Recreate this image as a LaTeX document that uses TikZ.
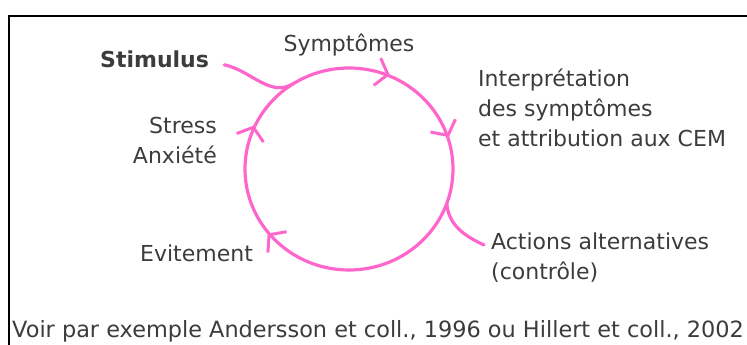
\documentclass[tikz,border=0pt]{standalone}
\usepackage{fontspec}
\setmainfont{DejaVu Sans}
\usepackage{tikz}
\usetikzlibrary{arrows.meta,decorations.markings,calc}

\definecolor{loopPink}{RGB}{255,102,204}
\definecolor{labelGray}{RGB}{60,60,60}

\tikzset{
  lbl/.style={inner sep=0pt, text=labelGray, font=\fontsize{22}{30}\selectfont},
  loopline/.style={draw=loopPink, line width=3.2pt, line cap=round},
  cyclemarks/.style={decoration={markings,
      mark=at position 0.072 with {\arrow{<}},
      mark=at position 0.208 with {\arrow{<}},
      mark=at position 0.453 with {\arrow{<}},
      mark=at position 0.630 with {\arrow{<}}},
    postaction={decorate}}
}

\begin{document}
\begin{tikzpicture}
[x=1pt, y=1pt, >={Straight Barb[length=11pt,width=28pt,line width=3pt]}]
\useasboundingbox (0,0) rectangle (747,345);

% frame
\draw[line width=2.8pt] (9,0) |- (747,329);

% the loop
\coordinate (c) at (349,176);
\draw[loopline, cyclemarks] (c) ellipse [x radius=104, y radius=101];
\coordinate (merge) at ([shift={(122:104 and 101)}]c);
\coordinate (branch) at ([shift={(-20:104 and 101)}]c);

% labels
\node[lbl, anchor=base] (sympt) at (349,293) {Symptômes};
\node[lbl, anchor=base west, font=\fontsize{22}{30}\selectfont\bfseries] (stim) at (100,277) {Stimulus};
\node[lbl, anchor=north west, align=left] (interp) at (478,276) {Interprétation\\des symptômes\\et attribution aux CEM};
\node[lbl, anchor=north east, align=right] (stress) at (217,228) {Stress\\Anxiété};
\node[lbl, anchor=base west] (evit) at (140,83) {Evitement};
\node[lbl, anchor=north west, align=left] (actions) at (491,112) {Actions alternatives\\(contrôle)};
\node[lbl, anchor=base west, font=\fontsize{22.4}{30}\selectfont] (ref) at (12,7) {Voir par exemple Andersson et coll., 1996 ou Hillert et coll., 2002};

% side branches
\coordinate (stimend) at ([shift={(15,-5)}]stim.east);
\draw[loopline] (stimend) to[out=-12, in=212] (merge);
\draw[loopline] (branch) to[out=-85, in=155] ([shift={(-7,-12)}]actions.north west);
\end{tikzpicture}
\end{document}
